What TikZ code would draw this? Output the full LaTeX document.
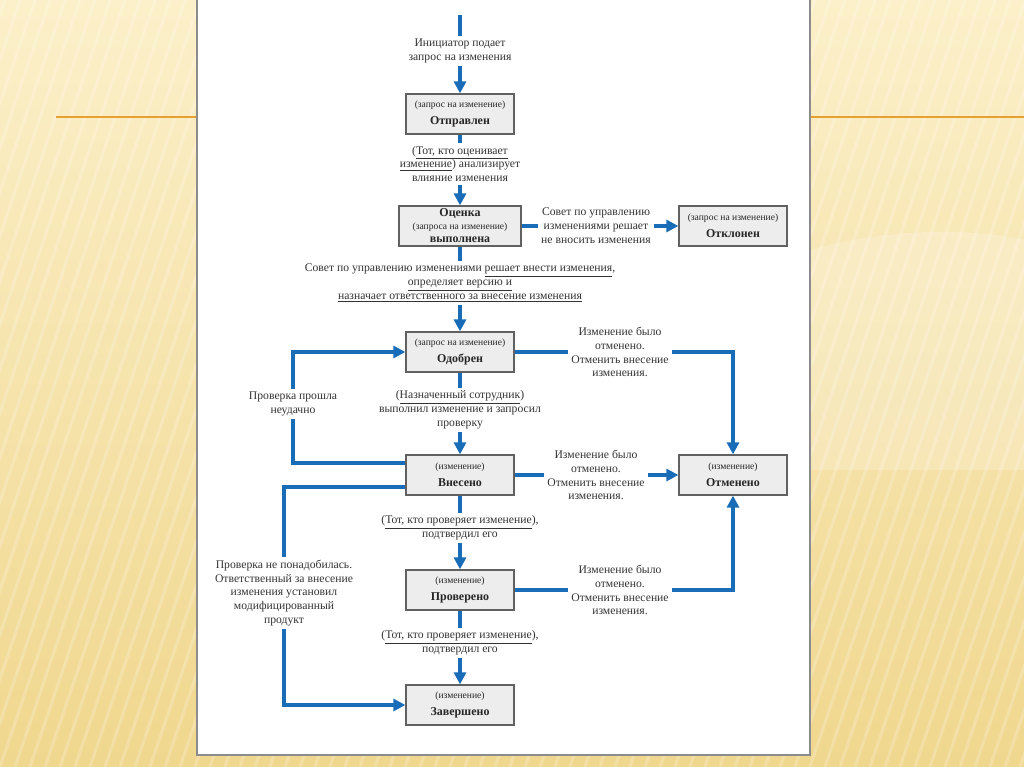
\documentclass[tikz,border=0pt]{standalone}
\usepackage{fontspec}
\setmainfont{Liberation Serif}
\usetikzlibrary{arrows.meta,calc}
\definecolor{flowblue}{RGB}{24,108,184}
\definecolor{boxfill}{gray}{0.93}
\definecolor{boxline}{gray}{0.38}
\definecolor{slidetop}{RGB}{252,240,202}
\definecolor{slidebot}{RGB}{240,215,142}
\definecolor{rulecol}{RGB}{232,160,52}
\definecolor{pageedge}{gray}{0.55}
\tikzset{
  state/.style={draw=boxline,fill=boxfill,line width=0.9pt,minimum width=2.7cm,minimum height=1cm,align=center,inner sep=1pt,text=black!85},
  lab/.style={font=\fontsize{8.3}{9.9}\selectfont,align=center,inner sep=2pt,text=black!80},
  flow/.style={draw=flowblue,line width=2.2pt},
  flowa/.style={flow,-{Triangle[length=8.5pt,width=8.5pt]}},
  stripe/.style={white,opacity=0.2,line width=2.2pt},
}
\newcommand{\smtxt}[1]{{\fontsize{6.8}{8.5}\selectfont #1}}
\newcommand{\bftxt}[1]{{\fontsize{8.5}{10.5}\selectfont\bfseries #1}}
\newcommand{\undl}[1]{\underline{#1}}

\begin{document}
\begin{tikzpicture}[x=0.025cm,y=-0.025cm]
  \useasboundingbox (0,0) rectangle (1024,767);
  % slide background
  \shade[top color=slidetop,bottom color=slidebot] (0,0) rectangle (1024,767);
  \fill[white,opacity=0.2] (810,250) .. controls (900,225) and (980,230) .. (1024,240) -- (1024,470) -- (810,470) -- cycle;
  \begin{scope}
    \clip (0,0) rectangle (1024,767);
    \foreach \i in {-300,-285,...,1060}
      \draw[stripe] (\i,767) -- (\i+260,0);
  \end{scope}
  \draw[rulecol,line width=1.2pt] (56,117) -- (197,117);
  \draw[rulecol,line width=1.2pt] (810,117) -- (1024,117);
  % page
  \fill[white] (197,0) rectangle (810,755);
  \draw[pageedge,line width=1pt] (197,0) -- (197,755) -- (810,755) -- (810,0);

  % states
  \node[state] (sent) at (460,114) {\smtxt{(запрос на изменение)}\\\bftxt{Отправлен}};
  \node[state,minimum width=3.05cm,inner ysep=0.5pt,font=\fontsize{8.5}{9.2}\selectfont\bfseries] (eval) at (460,226) {Оценка\\{\mdseries\fontsize{6.8}{9.2}\selectfont (запроса на изменение)}\\выполнена};
  \node[state] (rejected) at (733,226) {\smtxt{(запрос на изменение)}\\\bftxt{Отклонен}};
  \node[state] (approved) at (460,352) {\smtxt{(запрос на изменение)}\\\bftxt{Одобрен}};
  \node[state] (applied) at (460,475) {\smtxt{(изменение)}\\\bftxt{Внесено}};
  \node[state] (cancelled) at (733,475) {\smtxt{(изменение)}\\\bftxt{Отменено}};
  \node[state] (verified) at (460,590) {\smtxt{(изменение)}\\\bftxt{Проверено}};
  \node[state] (done) at (460,705) {\smtxt{(изменение)}\\\bftxt{Завершено}};

  % transition texts
  \coordinate (start) at (460,15);
  \node[lab] (tinit) at (460,51) {Инициатор подает\\запрос на изменения};
  \node[lab] (tassess) at (460,164) {(\undl{Тот, кто оценивает}\\\undl{изменение}) анализирует\\влияние изменения};
  \node[lab] (trej) at (596,226) {Совет по управлению\\изменениями решает\\не вносить изменения};
  \node[lab] (tdecide) at (460,283) {Совет по управлению изменениями \undl{решает внести изменения},\\\undl{определяет версию и}\\\undl{назначает ответственного за внесение изменения}};
  \node[lab] (tcan1) at (620,352) {Изменение было\\отменено.\\Отменить внесение\\изменения.};
  \node[lab] (timpl) at (460,410) {(\undl{Назначенный сотрудник})\\выполнил изменение и запросил\\проверку};
  \node[lab] (tfail) at (293,404) {Проверка прошла\\неудачно};
  \node[lab] (tcan2) at (596,475) {Изменение было\\отменено.\\Отменить внесение\\изменения.};
  \node[lab] (tverify) at (460,528) {(\undl{Тот, кто проверяет изменение}),\\подтвердил его};
  \node[lab] (tskip) at (284,593) {Проверка не понадобилась.\\Ответственный за внесение\\изменения установил\\модифицированный\\продукт};
  \node[lab] (tcan3) at (620,590) {Изменение было\\отменено.\\Отменить внесение\\изменения.};
  \node[lab] (tfinal) at (460,643) {(\undl{Тот, кто проверяет изменение}),\\подтвердил его};

  % connectors
  \draw[flow] (start) -- (tinit);
  \draw[flowa] (tinit) -- (sent);
  \draw[flow] (sent) -- (tassess);
  \draw[flowa] (tassess) -- (eval);
  \draw[flow] (eval) -- (trej);
  \draw[flowa] (trej) -- (rejected);
  \draw[flow] (eval) -- (tdecide);
  \draw[flowa] (tdecide) -- (approved);
  \draw[flow] (approved) -- (tcan1);
  \draw[flowa] (tcan1) -| (cancelled);
  \draw[flow] (approved) -- (timpl);
  \draw[flowa] (timpl) -- (applied);
  \draw[flow] ($(applied.west)+(0,-12)$) -| (tfail);
  \draw[flowa] (tfail) |- (approved.west);
  \draw[flow] (applied) -- (tcan2);
  \draw[flowa] (tcan2) -- (cancelled);
  \draw[flow] (applied) -- (tverify);
  \draw[flowa] (tverify) -- (verified);
  \draw[flow] ($(applied.west)+(0,12)$) -| (tskip);
  \draw[flowa] (tskip) |- (done.west);
  \draw[flow] (verified) -- (tcan3);
  \draw[flowa] (tcan3) -| (cancelled);
  \draw[flow] (verified) -- (tfinal);
  \draw[flowa] (tfinal) -- (done);
\end{tikzpicture}
\end{document}
